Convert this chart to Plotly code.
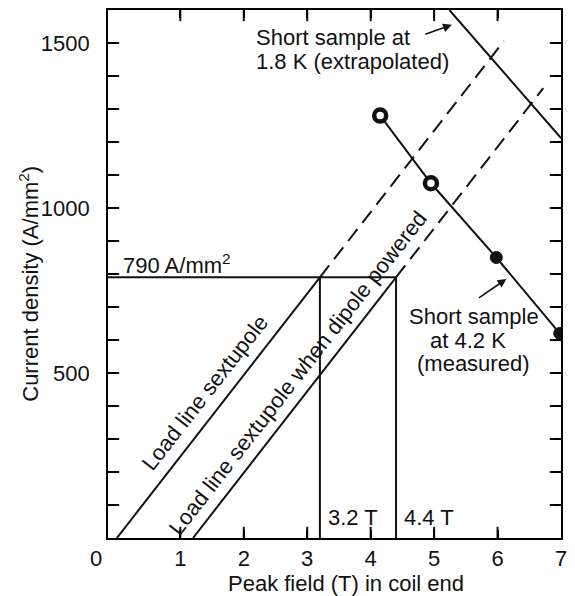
import plotly.graph_objects as go

# Operating point of the sextupole coil end
j_op = 790          # A/mm^2
b_sext = 3.2        # T, sextupole alone
b_dip = 4.4         # T, sextupole with dipole powered
b_offset = 1.2      # T, field offset from the dipole

# Load lines (solid up to the operating point, dashed beyond)
load1_b = [0.0, b_sext]
load1_j = [0.0, j_op]
load1_ext_b = [b_sext, 6.1]
load1_ext_j = [j_op, 1506]

load2_b = [b_offset, b_dip]
load2_j = [0.0, j_op]
load2_ext_b = [b_dip, 6.72]
load2_ext_j = [j_op, 1363]

# Short-sample critical current, 4.2 K (measured)
ss42_b = [4.15, 4.95, 5.98, 6.98]
ss42_j = [1280, 1075, 850, 620]

# Short-sample critical current, 1.8 K (extrapolated)
ss18_b = [5.24, 7.0]
ss18_j = [1600, 1212]

x_ticks = [1, 2, 3, 4, 5, 6, 7]
y_ticks = list(range(100, 1600, 100))
y_labels = [str(v) + "  " if v in (500, 1000, 1500) else "" for v in y_ticks]

X_RANGE = [-0.14, 7.0]
Y_RANGE = [0, 1600]

FONT = "Liberation Sans"
FS = 22
BLACK = "#111111"
LW = 2
CLEAR = "rgba(0,0,0,0)"

fig = go.Figure()

def line(xs, ys, dash="solid"):
    fig.add_trace(go.Scatter(x=xs, y=ys, mode="lines",
                             line=dict(color=BLACK, width=LW, dash=dash),
                             hoverinfo="skip", showlegend=False))

# 790 A/mm^2 level and the two field readings
line([X_RANGE[0], b_dip], [j_op, j_op])
line([b_sext, b_sext], [0, j_op])
line([b_dip, b_dip], [0, j_op])

line(load1_b, load1_j)
line(load2_b, load2_j)
line(load1_ext_b, load1_ext_j, dash="15px,8px")
line(load2_ext_b, load2_ext_j, dash="15px,8px")

line(ss18_b, ss18_j)
line(ss42_b, ss42_j)

# measured points: two ring markers, two solid dots
fig.add_trace(go.Scatter(
    x=ss42_b[:2], y=ss42_j[:2], mode="markers",
    marker=dict(size=12, color="white", line=dict(color=BLACK, width=4.5)),
    hoverinfo="skip", showlegend=False))
fig.add_trace(go.Scatter(
    x=ss42_b[2:], y=ss42_j[2:], mode="markers",
    marker=dict(size=12, color=BLACK, line=dict(color=BLACK, width=1)),
    hoverinfo="skip", showlegend=False))

# Inward tick marks on all four sides of the frame (half of each marker is
# clipped by the plot area, leaving a short tick pointing inward)
inner_x = x_ticks[:-1]
fig.add_trace(go.Scatter(
    x=inner_x + inner_x, y=[Y_RANGE[0]] * len(inner_x) + [Y_RANGE[1]] * len(inner_x),
    mode="markers", cliponaxis=True,
    marker=dict(symbol="line-ns", size=16, line=dict(color=BLACK, width=2)),
    hoverinfo="skip", showlegend=False))
fig.add_trace(go.Scatter(
    x=[X_RANGE[0]] * len(y_ticks) + [X_RANGE[1]] * len(y_ticks), y=y_ticks + y_ticks,
    mode="markers", cliponaxis=True,
    marker=dict(symbol="line-ew", size=16, line=dict(color=BLACK, width=2)),
    hoverinfo="skip", showlegend=False))

ann = []

def text(s, x, y, xanchor="center", angle=0, xshift=0, ref="data"):
    xr, yr = ("x", "y") if ref == "data" else ("paper", "paper")
    ann.append(dict(text=s, x=x, y=y, xref=xr, yref=yr, showarrow=False,
                    xanchor=xanchor, yanchor="middle", textangle=angle,
                    xshift=xshift, font=dict(family=FONT, size=FS, color=BLACK)))

text("Short sample at", 2.156, 1518, xanchor="left")
text("1.8 K (extrapolated)", 2.156, 1443, xanchor="left")
text("Short sample", 5.625, 670)
text("at 4.2 K", 5.53, 598)
text("(measured)", 5.61, 528)
text("790 A/mm<sup>2</sup>", 0.06, 830, xanchor="left")
text("3.2 T", b_sext, 63, xanchor="left", xshift=6)
text("4.4 T", b_dip, 63, xanchor="left", xshift=6)
text("Load line sextupole", 1.39, 441, angle=-52)
text("Load line sextupole when dipole powered", 2.86, 501, angle=-52)
text("0", -0.026, -0.038, ref="paper")
text("Peak field (T) in coil end", 0.525, -0.087, ref="paper")
text("Current density (A/mm<sup>2</sup>)", -0.175, 0.481, angle=-90, ref="paper")

# Pointer arrows to the short-sample curves
for hx, hy, ax, ay in [(5.28, 1555, -28, 10), (6.14, 785, -29, 20)]:
    ann.append(dict(text="", x=hx, y=hy, xref="x", yref="y", ax=ax, ay=ay,
                    showarrow=True, arrowhead=2, arrowsize=1.1,
                    arrowwidth=1.6, arrowcolor=BLACK))

fig.update_layout(
    width=575, height=596,
    margin=dict(l=108, r=10, t=8, b=58),
    paper_bgcolor="white", plot_bgcolor="white",
    annotations=ann,
    font=dict(family=FONT, size=FS, color=BLACK),
)

fig.update_xaxes(range=X_RANGE, tickvals=x_ticks,
                 ticks="inside", ticklen=8, tickwidth=2, tickcolor="black",
                 showline=True, linecolor="black", linewidth=1.5,
                 mirror="allticks", gridcolor=CLEAR, zerolinecolor=CLEAR,
                 tickfont=dict(family=FONT, size=FS, color=BLACK))
fig.update_yaxes(range=Y_RANGE, tickvals=y_ticks, ticktext=y_labels,
                 ticks="inside", ticklen=8, tickwidth=2, tickcolor="black",
                 showline=True, linecolor="black", linewidth=1.5,
                 mirror="allticks", gridcolor=CLEAR, zerolinecolor=CLEAR,
                 tickfont=dict(family=FONT, size=FS, color=BLACK))

fig.write_html("out.html")
